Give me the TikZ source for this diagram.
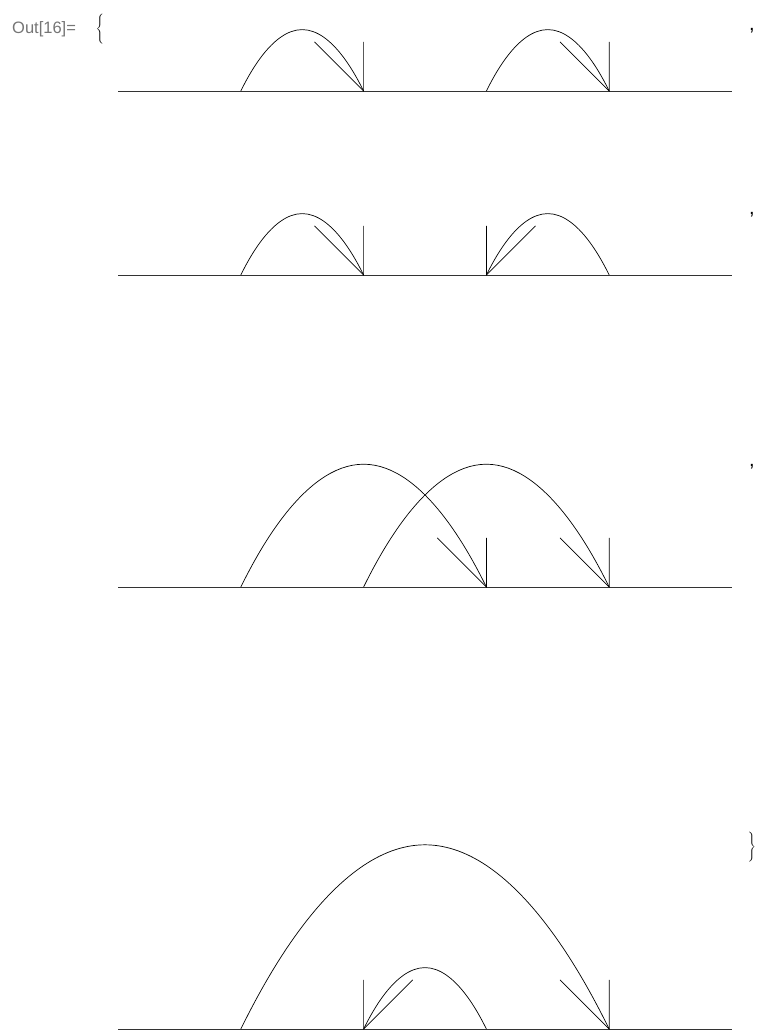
\documentclass[tikz,border=0pt]{standalone}
\usepackage{fontspec}
\setmainfont{Liberation Sans}
\definecolor{outgray}{HTML}{757575}
\usetikzlibrary{calc}
\tikzset{
  axisline/.style={draw=black!80,line width=0.8pt},
  archline/.style={draw=black,line width=0.7pt},
  tickline/.style={draw=black,line width=0.7pt},
  outlab/.style={font=\fontsize{16.5}{19}\selectfont\color{outgray},inner sep=0pt},
  sep/.style={font=\fontsize{20}{22}\selectfont,inner sep=0pt},
}
% one arch from #1 to #2, height half its width
\newcommand{\hump}[2]{\draw[archline] (#1,0) parabola bend ({(#1+#2)/2},{(#2-#1)/2}) (#2,0);}
% stick with slant to the left / to the right
\newcommand{\stickL}[1]{\draw[tickline] (#1-0.4,0.4) -- (#1,0) -- (#1,0.4);}
\newcommand{\stickR}[1]{\draw[tickline] (#1+0.4,0.4) -- (#1,0) -- (#1,0.4);}
\begin{document}
\begin{tikzpicture}[x=1pt,y=1pt]
\useasboundingbox (0,0) rectangle (760,-1034);
% Output label and braces
\node[outlab,anchor=base west] (out) at (12,-33) {Out[16]=};
\node[inner sep=0pt] (lbrace) at (100,-29) {$\Bigg\{$};
\node[sep] (comma1) at (752,-31) {,};
\node[sep] (comma2) at (752,-215) {,};
\node[sep] (comma3) at (752,-467) {,};
\node[inner sep=0pt] (rbrace) at (752,-847) {$\Bigg\}$};
% Panel 1
\begin{scope}[shift={(118,-91)},x=122.8pt,y=122.8pt]
\draw[axisline] (0,0) -- (5,0);
\hump{1}{2}
\hump{3}{4}
\stickL{2}
\stickL{4}
\end{scope}
% Panel 2
\begin{scope}[shift={(118,-275)},x=122.8pt,y=122.8pt]
\draw[axisline] (0,0) -- (5,0);
\hump{1}{2}
\hump{3}{4}
\stickL{2}
\stickR{3}
\end{scope}
% Panel 3
\begin{scope}[shift={(118,-587)},x=122.8pt,y=122.8pt]
\draw[axisline] (0,0) -- (5,0);
\hump{1}{3}
\hump{2}{4}
\stickL{3}
\stickL{4}
\end{scope}
% Panel 4
\begin{scope}[shift={(118,-1029)},x=122.8pt,y=122.8pt]
\draw[axisline] (0,0) -- (5,0);
\hump{1}{4}
\hump{2}{3}
\stickR{2}
\stickL{4}
\end{scope}
\end{tikzpicture}
\end{document}
